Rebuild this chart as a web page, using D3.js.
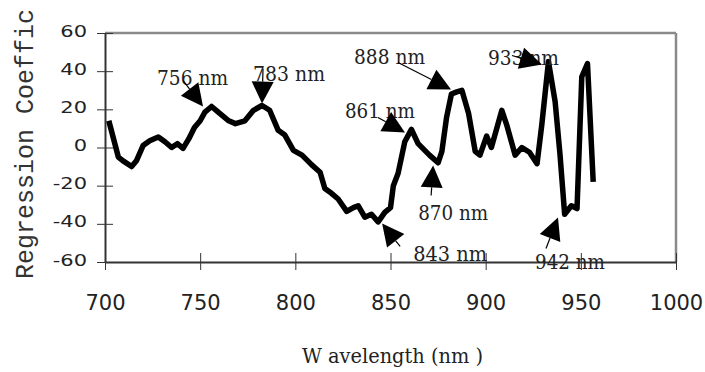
<!DOCTYPE html>
<html>
<head>
<meta charset="utf-8">
<script src="https://cdn.jsdelivr.net/npm/d3@7"></script>
<style>
  body { margin: 0; background: #fff; }
</style>
</head>
<body>
<div id="chart"></div>
<script>
// values
const wavelengths = [
  702, 707, 709.5, 714, 716.5, 720, 723.5, 728, 731.5, 735, 738, 741, 744, 747,
  750, 752.5, 756, 759.5, 765, 768.5, 773.5, 778, 782.5, 786.5, 791, 794.5, 799,
  803.5, 808.5, 813, 815.5, 819, 822.5, 827, 830.5, 833, 836.5, 840, 843.5, 847,
  850, 851.5, 854, 857.5, 861, 864.5, 870.5, 875, 877, 879.5, 882, 884.5, 887.5,
  891, 894.5, 897, 900.5, 903, 908.5, 911, 915.5, 919, 923, 927, 929.5, 933,
  936.5, 939, 941.5, 945, 948, 950.5, 953.5, 956.5
];
const coefficients = [
  14, -5, -7, -10, -7, 1, 3.5, 5.5, 3, 0, 2, -0.5, 4.5, 10.5,
  14, 18.5, 21.5, 18.5, 14, 12.5, 14, 19.5, 22, 19.5, 9, 6.5, -1.5,
  -4, -9, -13, -21.5, -24, -27, -33.5, -31.5, -30.5, -36.5, -35, -39, -34,
  -31.5, -20, -13.5, 3, 9.5, 2, -4, -8, -2, 16, 28, 29, 30,
  18, -2, -4, 6, 0, 19.5, 12, -4, 0, -2.5, -8.5, 12, 45,
  24, -3, -35, -30.5, -32, 37, 44, -18
];

const xTicks = [700, 750, 800, 850, 900, 950, 1000];
const yTicks = [-60, -40, -20, 0, 20, 40, 60];

const peakLabels = ["756 nm", "783 nm", "888 nm", "861 nm", "870 nm", "843 nm", "933 nm", "942 nm"];
const peakWavelengths = [751.5, 782.5, 881.8, 857.6, 872.4, 845.6, 929.6, 938.0];
const peakValues = [21.5, 23.0, 30.4, 7.9, -9.4, -39.8, 43.5, -36.7];

// where each label sits relative to its arrow tip (px): text left/baseline, arrow tail, text width
const labelLayout = [
  { tx: -46, ty: -21, ax: -20, ay: -26, w: 71 },
  { tx: -9, ty: -23, ax: 1, ay: -35, w: 72 },
  { tx: -97, ty: -25, ax: -53, ay: -27, w: 71 },
  { tx: -60, ty: -14, ax: -27, ay: -15, w: 70 },
  { tx: -15, ty: 55, ax: -2, ay: 30, w: 70 },
  { tx: 31, ty: 38, ax: 18, ay: 23, w: 74 },
  { tx: -54, ty: 1, ax: -30, ay: -9, w: 71 },
  { tx: -23, ty: 51, ax: -12, ay: 31, w: 70 }
];

const width = 705;
const height = 372;
const margin = { top: 33, right: 29, bottom: 110, left: 105 };
const plotRight = width - margin.right;
const plotBottom = height - margin.bottom;

const svg = d3.select("#chart")
  .append("svg")
  .attr("width", width)
  .attr("height", height);

const x = d3.scaleLinear().domain([700, 1000]).range([margin.left, plotRight]);
const y = d3.scaleLinear().domain([-60, 60]).range([plotBottom, margin.top]);

// gray frame on top and right
svg.append("line")
  .attr("x1", margin.left).attr("x2", plotRight)
  .attr("y1", margin.top).attr("y2", margin.top)
  .attr("stroke", "#8a8a8a").attr("stroke-width", 2.5);
svg.append("line")
  .attr("x1", plotRight).attr("x2", plotRight)
  .attr("y1", margin.top).attr("y2", plotBottom)
  .attr("stroke", "#8a8a8a").attr("stroke-width", 2.5);

// y axis
const yAxis = svg.append("g")
  .attr("transform", `translate(${margin.left},0)`)
  .call(d3.axisLeft(y).tickValues(yTicks).tickSize(8).tickSizeOuter(0).tickFormat((d) => String(d)));
yAxis.selectAll(".tick line").attr("x1", 8).attr("x2", -8).attr("stroke", "#333");
yAxis.selectAll(".tick text")
  .attr("x", null).attr("dy", null)
  .attr("transform", "translate(-18,3) scale(1,0.72)")
  .attr("fill", "#222")
  .style("font-family", "'DejaVu Sans', sans-serif")
  .style("font-size", "21px");

// x axis
const xAxis = svg.append("g")
  .attr("transform", `translate(0,${plotBottom})`)
  .call(d3.axisBottom(x).tickValues(xTicks).tickSize(8).tickSizeOuter(0).tickFormat((d) => String(d)));
xAxis.selectAll(".tick line").attr("y1", -9).attr("y2", 8).attr("stroke", "#333");
xAxis.selectAll(".tick text")
  .attr("dy", null).attr("y", 48)
  .attr("fill", "#222")
  .style("font-family", "'DejaVu Sans', sans-serif")
  .style("font-size", "21px");

svg.selectAll(".domain").attr("stroke", "#333").attr("stroke-width", 2);

// the curve
const data = wavelengths.map((w, i) => ({ w, v: coefficients[i] }));
const line = d3.line().x((d) => x(d.w)).y((d) => y(d.v));

svg.append("path")
  .datum(data)
  .attr("d", line)
  .attr("fill", "none")
  .attr("stroke", "#000")
  .attr("stroke-width", 5.5)
  .attr("stroke-linejoin", "round");

// peak labels with arrows
const headLen = 22;
const headHalf = 11;

peakLabels.forEach((label, i) => {
  const lay = labelLayout[i];
  const tipX = x(peakWavelengths[i]);
  const tipY = y(peakValues[i]);
  const tailX = tipX + lay.ax;
  const tailY = tipY + lay.ay;
  const len = Math.hypot(tipX - tailX, tipY - tailY);
  const ux = (tipX - tailX) / len;
  const uy = (tipY - tailY) / len;
  const bx = tipX - ux * headLen;
  const by = tipY - uy * headLen;

  svg.append("text")
    .attr("x", tipX + lay.tx)
    .attr("y", tipY + lay.ty)
    .attr("textLength", lay.w)
    .attr("lengthAdjust", "spacingAndGlyphs")
    .attr("fill", "#222")
    .style("font-family", "'DejaVu Serif', serif")
    .style("font-size", "20px")
    .text(label);

  svg.append("line")
    .attr("x1", tailX).attr("y1", tailY)
    .attr("x2", bx).attr("y2", by)
    .attr("stroke", "#000").attr("stroke-width", 1.2);

  svg.append("path")
    .attr("d", `M${tipX},${tipY}L${bx - uy * headHalf},${by + ux * headHalf}L${bx + uy * headHalf},${by - ux * headHalf}Z`)
    .attr("fill", "#000");
});

// axis titles (the y title is cut short at the top edge in the reference)
svg.append("text")
  .attr("transform", "translate(33,279) rotate(-90)")
  .attr("fill", "#333")
  .style("font-family", "'Liberation Mono', monospace")
  .style("font-size", "25px")
  .text("Regression Coeffic");

svg.append("text")
  .attr("x", 302)
  .attr("y", 363)
  .attr("textLength", 181)
  .attr("lengthAdjust", "spacingAndGlyphs")
  .attr("fill", "#222")
  .style("font-family", "'DejaVu Serif', serif")
  .style("font-size", "20px")
  .text("W avelength (nm )");
</script>
</body>
</html>
